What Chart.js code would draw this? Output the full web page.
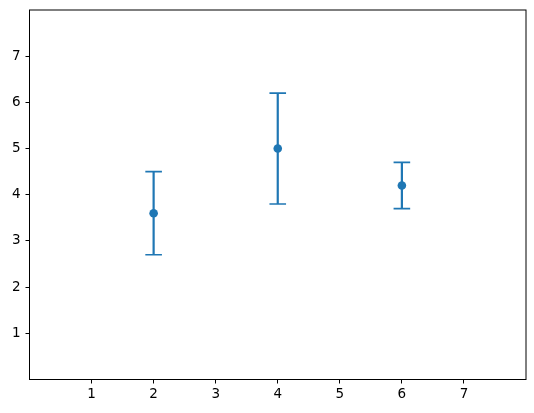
<!DOCTYPE html>
<html>
<head>
    <title>Error bars</title>
    <script src="https://cdn.jsdelivr.net/npm/chart.js"></script>
    <style>
        body { margin: 0; background: #fff; }
        .chart-container { width: 534px; height: 413px; }
    </style>
</head>
<body>
    <div class="chart-container">
        <canvas id="errChart"></canvas>
    </div>
    <script>
        // Data
        const xValues = [2, 4, 6];
        const yValues = [3.6, 5.0, 4.2];
        const yLower = [2.7, 3.8, 3.7];
        const yUpper = [4.5, 6.2, 4.7];
        const tickValues = [1, 2, 3, 4, 5, 6, 7];

        const blue = '#1f77b4';

        // Draws the vertical error bars with caps, using the chart's scales
        const errorBars = {
            id: 'errorBars',
            beforeDatasetsDraw(chart) {
                const ctx = chart.ctx;
                const xs = chart.scales.x, ys = chart.scales.y;
                ctx.save();
                ctx.strokeStyle = blue;
                for (let i = 0; i < xValues.length; i++) {
                    const px = xs.getPixelForValue(xValues[i]);
                    const lo = ys.getPixelForValue(yLower[i]);
                    const hi = ys.getPixelForValue(yUpper[i]);
                    ctx.lineWidth = 2.2;
                    ctx.beginPath();
                    ctx.moveTo(px, lo);
                    ctx.lineTo(px, hi);
                    ctx.stroke();
                    ctx.lineWidth = 1.6;
                    ctx.beginPath();
                    ctx.moveTo(px - 8.3, lo);
                    ctx.lineTo(px + 8.3, lo);
                    ctx.moveTo(px - 8.3, hi);
                    ctx.lineTo(px + 8.3, hi);
                    ctx.stroke();
                }
                ctx.restore();
            }
        };

        // Box around the plot area
        const frame = {
            id: 'frame',
            afterDraw(chart) {
                const a = chart.chartArea;
                const ctx = chart.ctx;
                ctx.save();
                ctx.strokeStyle = '#000';
                ctx.lineWidth = 1;
                ctx.strokeRect(a.left, a.top, a.right - a.left, a.bottom - a.top);
                ctx.restore();
            }
        };

        const axisCommon = {
            type: 'linear',
            min: 0,
            max: 8,
            afterBuildTicks(scale) {
                scale.ticks = tickValues.map(v => ({ value: v }));
            },
            grid: {
                display: true,
                drawOnChartArea: false,
                drawTicks: true,
                tickLength: 4,
                tickWidth: 1,
                tickColor: '#000',
                color: '#000'
            },
            border: { display: false },
            ticks: {
                color: '#000',
                font: { family: 'DejaVu Sans', size: 13.5 },
                autoSkip: false,
                maxRotation: 0
            }
        };

        new Chart(document.getElementById('errChart'), {
            type: 'scatter',
            data: {
                datasets: [{
                    data: xValues.map((x, i) => ({ x: x, y: yValues[i] })),
                    backgroundColor: blue,
                    borderColor: blue,
                    pointRadius: 4.3,
                    pointHoverRadius: 4.3,
                    borderWidth: 0
                }]
            },
            options: {
                responsive: true,
                maintainAspectRatio: false,
                animation: false,
                layout: { padding: { left: 0, top: 10, right: 8, bottom: 0 } },
                plugins: {
                    legend: { display: false },
                    tooltip: { enabled: false }
                },
                scales: {
                    x: {
                        ...axisCommon,
                        position: 'bottom',
                        ticks: { ...axisCommon.ticks, padding: 3 },
                        afterFit(scale) {
                            scale.height = 33.5;
                            scale.paddingLeft = 0;
                            scale.paddingRight = 0;
                        }
                    },
                    y: {
                        ...axisCommon,
                        position: 'left',
                        ticks: { ...axisCommon.ticks, padding: 5 },
                        afterFit(scale) {
                            scale.width = 29.5;
                            scale.paddingTop = 0;
                            scale.paddingBottom = 0;
                        }
                    }
                }
            },
            plugins: [errorBars, frame]
        });
    </script>
</body>
</html>
